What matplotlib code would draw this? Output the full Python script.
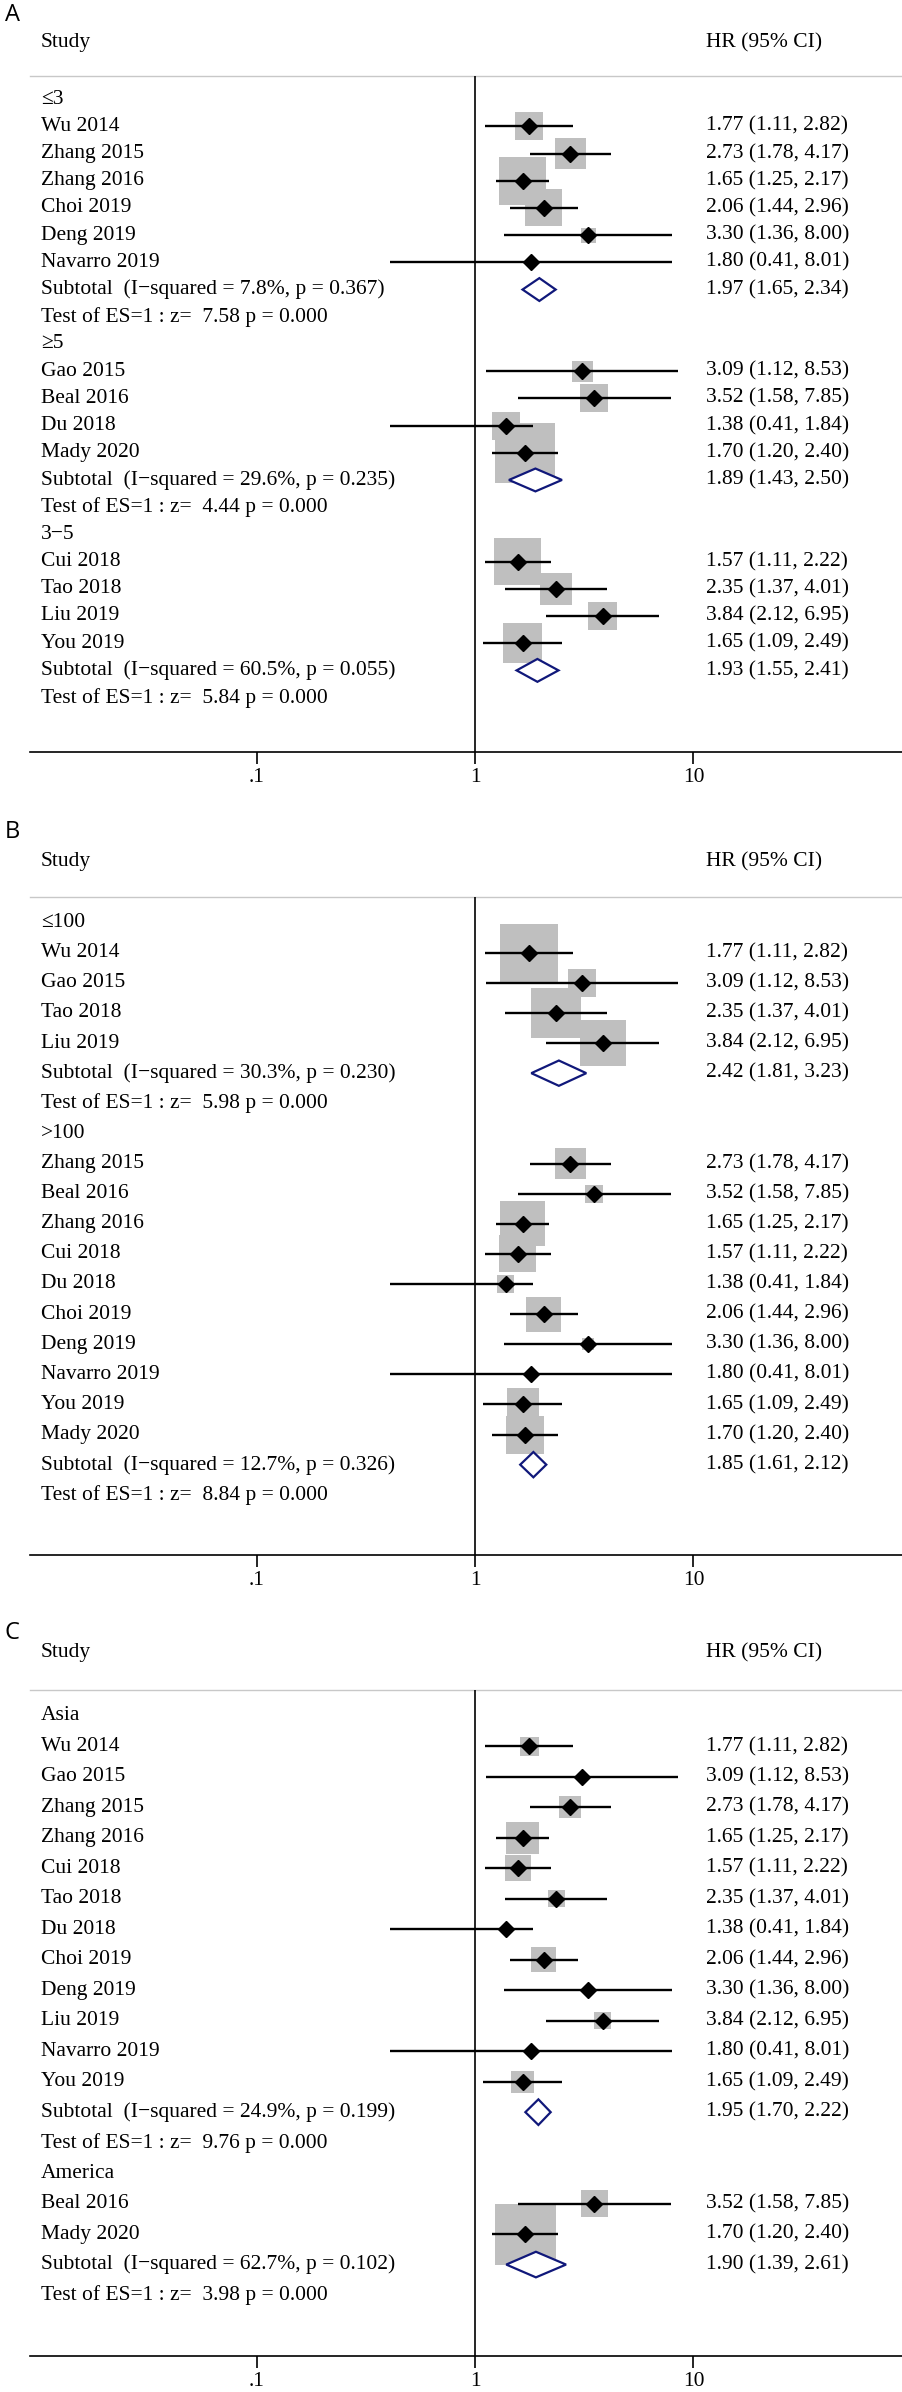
import matplotlib
matplotlib.use("Agg")
import matplotlib.pyplot as plt
import matplotlib.transforms as mtransforms
from matplotlib.patches import Rectangle, Polygon
import numpy as np

plt.rcParams['font.family'] = ['Liberation Serif', 'DejaVu Serif']

# ---- data -------------------------------------------------------------
# panel A: by follow-up (cut-off)
a_groups = ["\u22643", "\u22655", "3\u22125"]
a_studies = [
    ["Wu 2014", "Zhang 2015", "Zhang 2016", "Choi 2019", "Deng 2019", "Navarro 2019"],
    ["Gao 2015", "Beal 2016", "Du 2018", "Mady 2020"],
    ["Cui 2018", "Tao 2018", "Liu 2019", "You 2019"],
]
a_hr = [[1.77, 2.73, 1.65, 2.06, 3.30, 1.80], [3.09, 3.52, 1.38, 1.70], [1.57, 2.35, 3.84, 1.65]]
a_lo = [[1.11, 1.78, 1.25, 1.44, 1.36, 0.41], [1.12, 1.58, 0.41, 1.20], [1.11, 1.37, 2.12, 1.09]]
a_hi = [[2.82, 4.17, 2.17, 2.96, 8.00, 8.01], [8.53, 7.85, 1.84, 2.40], [2.22, 4.01, 6.95, 2.49]]
a_wt = [[13.9, 17.0, 40.8, 24.2, 4.0, 0.2], [7.9, 14.0, 14.0, 64.2], [38.9, 18.0, 14.8, 28.2]]
a_sub = [1.97, 1.89, 1.93]
a_sub_lo = [1.65, 1.43, 1.55]
a_sub_hi = [2.34, 2.50, 2.41]
a_i2 = ["7.8%", "29.6%", "60.5%"]
a_p = ["0.367", "0.235", "0.055"]
a_z = ["7.58", "4.44", "5.84"]

# panel B: by sample size
b_groups = ["\u2264100", ">100"]
b_studies = [
    ["Wu 2014", "Gao 2015", "Tao 2018", "Liu 2019"],
    ["Zhang 2015", "Beal 2016", "Zhang 2016", "Cui 2018", "Du 2018", "Choi 2019",
     "Deng 2019", "Navarro 2019", "You 2019", "Mady 2020"],
]
b_hr = [[1.77, 3.09, 2.35, 3.84], [2.73, 3.52, 1.65, 1.57, 1.38, 2.06, 3.30, 1.80, 1.65, 1.70]]
b_lo = [[1.11, 1.12, 1.37, 2.12], [1.78, 1.58, 1.25, 1.11, 0.41, 1.44, 1.36, 0.41, 1.09, 1.20]]
b_hi = [[2.82, 8.53, 4.01, 6.95], [4.17, 7.85, 2.17, 2.22, 1.84, 2.96, 8.00, 8.01, 2.49, 2.40]]
b_wt = [[38.4, 8.9, 28.5, 24.1], [10.9, 3.7, 23.0, 15.5, 3.3, 13.9, 1.6, 0.2, 11.6, 16.4]]
b_sub = [2.42, 1.85]
b_sub_lo = [1.81, 1.61]
b_sub_hi = [3.23, 2.12]
b_i2 = ["30.3%", "12.7%"]
b_p = ["0.230", "0.326"]
b_z = ["5.98", "8.84"]

# panel C: by region
c_groups = ["Asia", "America"]
c_studies = [
    ["Wu 2014", "Gao 2015", "Zhang 2015", "Zhang 2016", "Cui 2018", "Tao 2018",
     "Du 2018", "Choi 2019", "Deng 2019", "Liu 2019", "Navarro 2019", "You 2019"],
    ["Beal 2016", "Mady 2020"],
]
c_hr = [[1.77, 3.09, 2.73, 1.65, 1.57, 2.35, 1.38, 2.06, 3.30, 3.84, 1.80, 1.65], [3.52, 1.70]]
c_lo = [[1.11, 1.12, 1.78, 1.25, 1.11, 1.37, 0.41, 1.44, 1.36, 2.12, 0.41, 1.09], [1.58, 1.20]]
c_hi = [[2.82, 8.53, 4.17, 2.17, 2.22, 4.01, 1.84, 2.96, 8.00, 6.95, 8.01, 2.49], [7.85, 2.40]]
c_wt = [[8.1, 1.4, 10.9, 23.0, 15.2, 6.5, 1.4, 14.0, 1.4, 6.5, 0.6, 10.9], [16.7, 83.3]]
c_sub = [1.95, 1.90]
c_sub_lo = [1.70, 1.39]
c_sub_hi = [2.22, 2.61]
c_i2 = ["24.9%", "62.7%"]
c_p = ["0.199", "0.102"]
c_z = ["9.76", "3.98"]

# ---- layout -----------------------------------------------------------
W, H = 903, 2392
fig = plt.figure(figsize=(W / 100, H / 100), dpi=100)

FS = 15.5
XMIN, XMAX = 10 ** -2.037, 10 ** 1.959
X_LABEL = 41 / W
X_HR = 706 / W
AX_LEFT = 30 / W


def forest(letter, y_letter, y_head, y_top, y_bot, box_k,
           groups, studies, hr, lo, hi, wt, sub, sub_lo, sub_hi, i2, pv, zv):
    ax = fig.add_axes([AX_LEFT, 1 - y_bot / H, 1 - AX_LEFT, (y_bot - y_top) / H])
    ax.set_xscale('log')
    ax.set_xlim(XMIN, XMAX)
    n_rows = sum(len(s) + 3 for s in studies)
    ylo, yhi = n_rows - 1 + 2.0, -0.85
    ax.set_ylim(ylo, yhi)

    px_dec = (1 - AX_LEFT) * W / (np.log10(XMAX) - np.log10(XMIN))
    px_row = (y_bot - y_top) / (ylo - yhi)

    for side in ['left', 'right']:
        ax.spines[side].set_visible(False)
    ax.spines['top'].set_color('#c8c8c8')
    ax.spines['top'].set_linewidth(1.0)
    ax.spines['bottom'].set_linewidth(1.2)
    ax.set_yticks([])
    ax.set_xticks([0.1, 1, 10])
    ax.set_xticklabels(['.1', '1', '10'])
    ax.xaxis.set_minor_locator(matplotlib.ticker.NullLocator())
    ax.tick_params(axis='x', length=8.5, width=1.2, pad=3, labelsize=FS)
    ax.axvline(1, color='black', lw=1.2, zorder=4)

    tr = mtransforms.blended_transform_factory(fig.transFigure, ax.transData)

    row = 0
    for g in range(len(groups)):
        ax.text(X_LABEL, row, groups[g], transform=tr, va='center', fontsize=FS)
        row += 1
        for j in range(len(studies[g])):
            ax.text(X_LABEL, row, studies[g][j], transform=tr, va='center', fontsize=FS)
            ax.text(X_HR, row, "%.2f (%.2f, %.2f)" % (hr[g][j], lo[g][j], hi[g][j]),
                    transform=tr, va='center', fontsize=FS)
            side = box_k * np.sqrt(wt[g][j])
            hx = 10 ** (side / 2 / px_dec)
            hy = side / 2 / px_row
            ax.add_patch(Rectangle((hr[g][j] / hx, row - hy), hr[g][j] * hx - hr[g][j] / hx,
                                   2 * hy, facecolor='#bfbfbf', edgecolor='none', zorder=1))
            ax.plot([lo[g][j], hi[g][j]], [row, row], color='black', lw=1.7,
                    solid_capstyle='butt', zorder=2)
            ax.plot(hr[g][j], row, marker='D', color='black', ms=8.5, zorder=3)
            row += 1
        ax.text(X_LABEL, row, "Subtotal  (I\u2212squared = %s, p = %s)" % (i2[g], pv[g]),
                transform=tr, va='center', fontsize=FS)
        ax.text(X_HR, row, "%.2f (%.2f, %.2f)" % (sub[g], sub_lo[g], sub_hi[g]),
                transform=tr, va='center', fontsize=FS)
        d = 0.42
        ax.add_patch(Polygon([(sub_lo[g], row), (sub[g], row - d), (sub_hi[g], row), (sub[g], row + d)],
                             closed=True, facecolor='white', edgecolor='#10187a', lw=1.6, zorder=3))
        row += 1
        ax.text(X_LABEL, row, "Test of ES=1 : z=  %s p = 0.000" % zv[g],
                transform=tr, va='center', fontsize=FS)
        row += 1

    fig.text(5 / W, 1 - y_letter / H, letter, family='Open Sans', fontsize=17, va='center')
    fig.text(X_LABEL, 1 - y_head / H, "Study", va='center', fontsize=FS)
    fig.text(X_HR, 1 - y_head / H, "HR (95% CI)", va='center', fontsize=FS)
    return ax


forest("A", 15, 43, 76, 752, 7.5,
       a_groups, a_studies, a_hr, a_lo, a_hi, a_wt, a_sub, a_sub_lo, a_sub_hi, a_i2, a_p, a_z)
forest("B", 832, 862, 897, 1555, 9.4,
       b_groups, b_studies, b_hr, b_lo, b_hi, b_wt, b_sub, b_sub_lo, b_sub_hi, b_i2, b_p, b_z)
forest("C", 1633, 1653, 1690, 2356, 6.7,
       c_groups, c_studies, c_hr, c_lo, c_hi, c_wt, c_sub, c_sub_lo, c_sub_hi, c_i2, c_p, c_z)

fig.savefig("out.png", dpi=100, facecolor='white')
